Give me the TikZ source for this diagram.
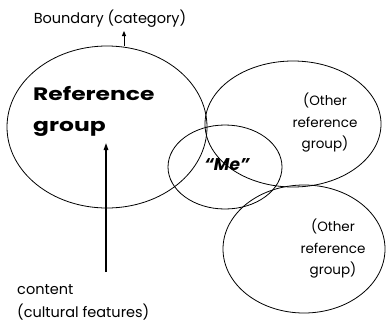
\documentclass[tikz,border=0pt]{standalone}
\usepackage{fontspec}
\setmainfont{Poppins}
\usetikzlibrary{shapes.geometric,arrows.meta}
\begin{document}
\begin{tikzpicture}[x=1pt,y=-1pt,
  grp/.style={draw=black,ellipse,line width=0.8pt,inner sep=0pt},
  lbl/.style={font=\fontsize{14.5}{21.5}\selectfont,inner sep=0pt},
  olbl/.style={font=\fontsize{13.5}{21.5}\selectfont,inner sep=0pt,align=center},
  big/.style={font=\fontsize{18}{31}\selectfont\bfseries,inner sep=0pt},
  arr/.style={line width=1.4pt,-{Triangle[length=7pt,width=4.5pt]}}]
\useasboundingbox (0,0) rectangle (387,324);
\node[grp,minimum width=200pt,minimum height=162pt] (ref) at (107,127) {};
\node[grp,minimum width=176pt,minimum height=126pt] (other1) at (293,124) {};
\node[grp,minimum width=114pt,minimum height=84pt] (me) at (225,167) {};
\node[grp,minimum width=162pt,minimum height=128pt] (other2) at (304,249) {};
\node[lbl,anchor=base] (boundary) at (110,23) {Boundary (category)};
\coordinate (bnd) at (124,46);
\coordinate (bndtip) at (124,31);
\draw[line width=0.9pt,-{Triangle[length=5pt,width=4pt]}] (bnd) -- (bndtip);
\node[big,anchor=base west] (reftext) at (33,100) {\scalebox{1.3}[1]{Reference}};
\node[big,anchor=base west] (reftext2) at (33,131) {\scalebox{1.3}[1]{group}};
\node[font=\fontsize{17}{19}\selectfont\bfseries\itshape,inner sep=0pt] (metext) at (227,165) {``Me''};
\node[olbl] (o1text) at (325,123) {(Other\\reference\\group)};
\node[olbl] (o2text) at (333,249) {(Other\\reference\\group)};
\node[lbl,anchor=base west] (content) at (17,294) {content};
\node[lbl,anchor=base west] (cultural) at (17,317) {(cultural features)};
\coordinate (arrbase) at (106,272);
\coordinate (arrtip) at (106,143);
\draw[arr] (arrbase) -- (arrtip);
\end{tikzpicture}
\end{document}
